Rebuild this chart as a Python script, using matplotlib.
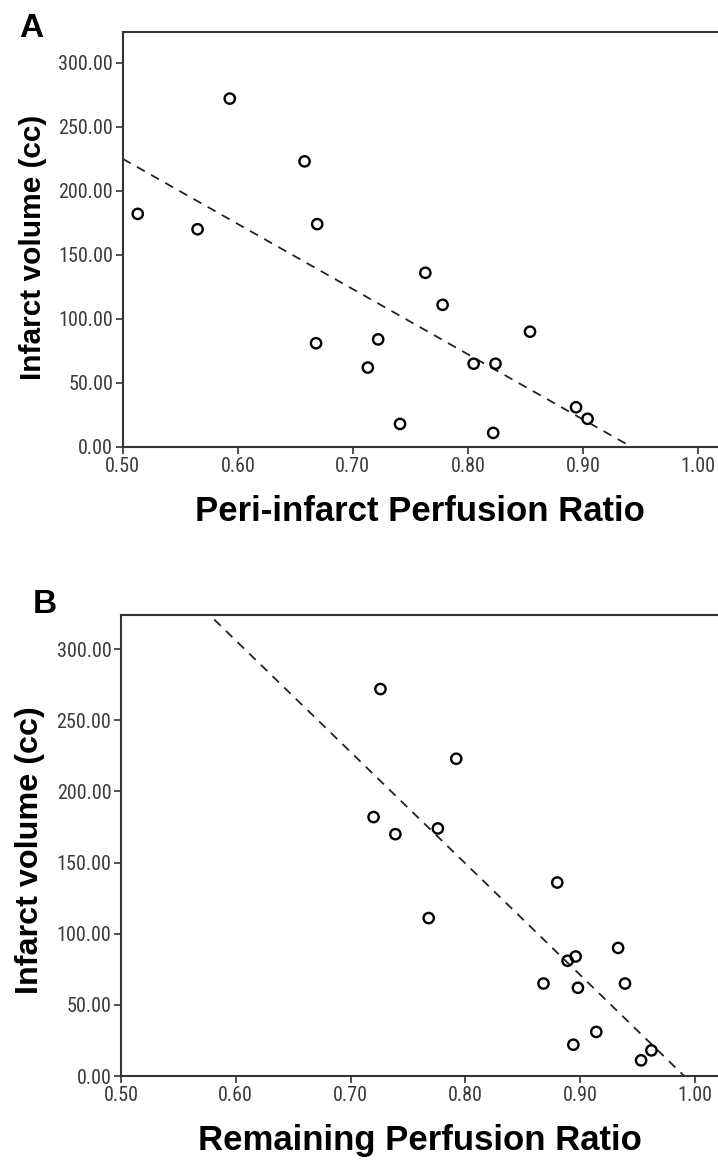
import matplotlib.pyplot as plt
from matplotlib import font_manager
import numpy as np

# panel A: peri-infarct perfusion ratio vs infarct volume
peri_ratio = [0.513, 0.565, 0.593, 0.658, 0.669, 0.668, 0.713, 0.722, 0.741,
              0.763, 0.778, 0.805, 0.824, 0.822, 0.854, 0.894, 0.904]
peri_volume = [182, 170, 272, 223, 174, 81, 62, 84, 18,
               136, 111, 65, 65, 11, 90, 31, 22]

# panel B: remaining perfusion ratio vs infarct volume
remain_ratio = [0.726, 0.792, 0.720, 0.776, 0.739, 0.880, 0.768, 0.933, 0.896,
                0.889, 0.868, 0.939, 0.898, 0.914, 0.894, 0.962, 0.953]
remain_volume = [272, 223, 182, 174, 170, 136, 111, 90, 84,
                 81, 65, 65, 62, 31, 22, 18, 11]

x_ticks = [0.50, 0.60, 0.70, 0.80, 0.90, 1.00]
y_ticks = [0, 50, 100, 150, 200, 250, 300]


def pick_font(names):
    for n in names:
        try:
            font_manager.findfont(font_manager.FontProperties(family=n), fallback_to_default=False)
            return n
        except ValueError:
            pass
    return 'DejaVu Sans'


tick_font = pick_font(['Liberation Sans Narrow', 'DejaVu Sans Condensed', 'Roboto Condensed',
                       'Liberation Sans'])
label_font = pick_font(['Liberation Sans', 'Arial'])


def draw_panel(ax, x, y, xlabel, letter, letter_pos, xmax, ysize, ylabel_y):
    ax.scatter(x, y, s=55, facecolors='none', edgecolors='black', linewidths=1.7, zorder=3)
    slope, intercept = np.polyfit(x, y, 1)
    xs = np.linspace(0.5, xmax, 200)
    ax.plot(xs, intercept + slope * xs, ls=(0, (5, 4)), color='#222222', lw=1.3, zorder=2)
    ax.set_xlim(0.5, xmax)
    ax.set_ylim(0, 324)
    ax.set_xticks(x_ticks)
    ax.set_yticks(y_ticks)
    ax.set_xticklabels(['%.2f' % v for v in x_ticks], family=tick_font, fontsize=14.5, color='#3a3a3a')
    ax.set_yticklabels(['%.2f' % v for v in y_ticks], family=tick_font, fontsize=14.5, color='#3a3a3a')
    ax.tick_params(direction='out', length=5, width=1.2, color='#333333', pad=2)
    ax.spines['right'].set_visible(False)
    for s in ['left', 'top', 'bottom']:
        ax.spines[s].set_linewidth(1.5)
        ax.spines[s].set_color('#333333')
    ax.set_xlabel(xlabel, family=label_font, fontsize=25, fontweight='bold', labelpad=14)
    ax.set_ylabel('Infarct volume (cc)', family=label_font, fontsize=ysize, fontweight='bold')
    ax.yaxis.set_label_coords(-0.128, ylabel_y)
    ax.figure.text(letter_pos[0], letter_pos[1], letter, family=label_font, fontsize=24,
                   fontweight='bold', ha='left', va='top')


fig = plt.figure(figsize=(7.18, 11.64), dpi=100)

ax_a = fig.add_axes([0.171, 0.616, 0.829, 0.3565])
draw_panel(ax_a, peri_ratio, peri_volume, 'Peri-infarct Perfusion Ratio', 'A',
           (0.027, 0.989), 1.0174, 21.5, 0.48)

ax_b = fig.add_axes([0.1685, 0.0756, 0.8315, 0.396])
draw_panel(ax_b, remain_ratio, remain_volume, 'Remaining Perfusion Ratio', 'B',
           (0.046, 0.494), 1.02, 23.3, 0.49)

fig.savefig('out.png', dpi=100)
